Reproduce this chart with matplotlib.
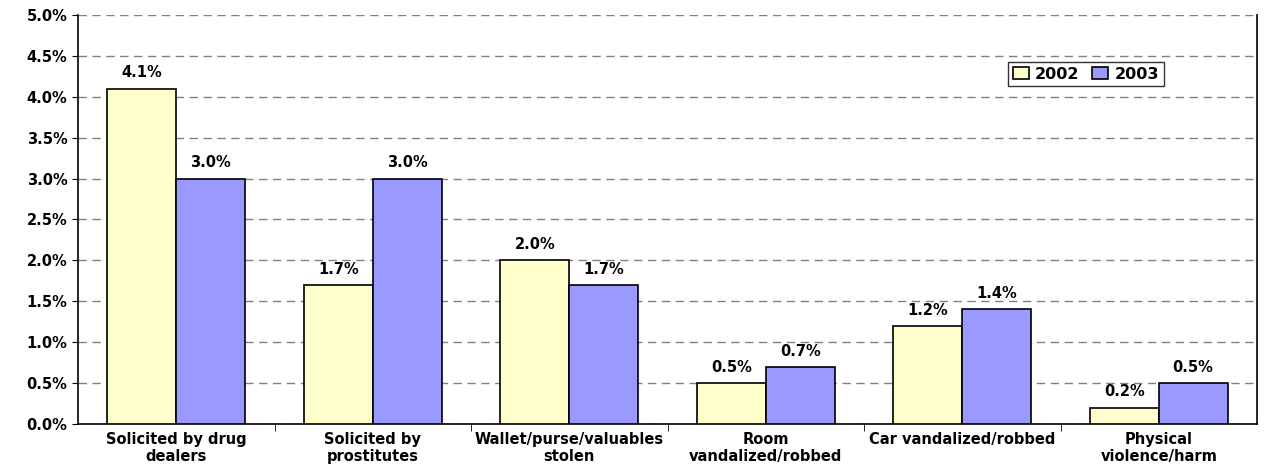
import numpy as np
import matplotlib
matplotlib.use("Agg")
import matplotlib.pyplot as plt
from matplotlib.ticker import FuncFormatter, FixedLocator

plt.rcParams['font.family'] = ['DejaVu Sans']
plt.rcParams['font.weight'] = 'bold'

categories = ["Solicited by drug\ndealers", "Solicited by\nprostitutes",
              "Wallet/purse/valuables\nstolen", "Room\nvandalized/robbed",
              "Car vandalized/robbed", "Physical\nviolence/harm"]
years = ["2002", "2003"]
vals_2002 = [4.1, 1.7, 2.0, 0.5, 1.2, 0.2]
vals_2003 = [3.0, 3.0, 1.7, 0.7, 1.4, 0.5]

fig = plt.figure(figsize=(12.68, 4.66), dpi=100)
ax = fig.add_axes([78/1268, 42/466, (1257-78)/1268, (424-15)/466])

x = np.arange(len(categories))
w = 0.35
b1 = ax.bar(x - w/2, vals_2002, w, color="#FFFFCC", edgecolor="black", linewidth=1.2, label=years[0], zorder=3)
b2 = ax.bar(x + w/2, vals_2003, w, color="#9999FF", edgecolor="black", linewidth=1.2, label=years[1], zorder=3)

for bars, vals in ((b1, vals_2002), (b2, vals_2003)):
    for r, v in zip(bars, vals):
        ax.text(r.get_x() + r.get_width()/2, v + 0.1, f"{v:.1f}%", ha="center", va="bottom",
                fontsize=10.5, fontweight="bold")

ax.set_xlim(-0.5, len(categories) - 0.5)
ax.set_ylim(0, 5.0)
ax.set_yticks(np.arange(0, 5.01, 0.5))
ax.yaxis.set_major_formatter(FuncFormatter(lambda v, p: f"{v:.1f}%"))
ax.tick_params(axis="y", labelsize=10.5, length=4, direction="out")

# category names sit between tick marks placed at group boundaries
ax.set_xticks(x)
ax.set_xticklabels(categories, fontsize=10.5, fontweight="bold", linespacing=1.15)
ax.tick_params(axis="x", which="major", length=0, pad=6)
ax.xaxis.set_minor_locator(FixedLocator(np.arange(0.5, len(categories) - 0.5, 1)))
ax.tick_params(axis="x", which="minor", length=5, direction="out")

ax.yaxis.grid(True, linestyle=(0, (6, 4)), color="#808080", linewidth=1, zorder=0)
ax.set_axisbelow(True)
ax.spines["top"].set_visible(False)
for s in ("left", "bottom", "right"):
    ax.spines[s].set_linewidth(1.2)

leg = ax.legend(loc="upper left", bbox_to_anchor=(0.782, 0.905), ncol=2, fontsize=11.5,
                frameon=True, fancybox=False, edgecolor="black", handlelength=1.0,
                handleheight=0.8, columnspacing=0.8, handletextpad=0.4, borderpad=0.3)
leg.get_frame().set_linewidth(1.0)

fig.savefig("out.png", dpi=100)
